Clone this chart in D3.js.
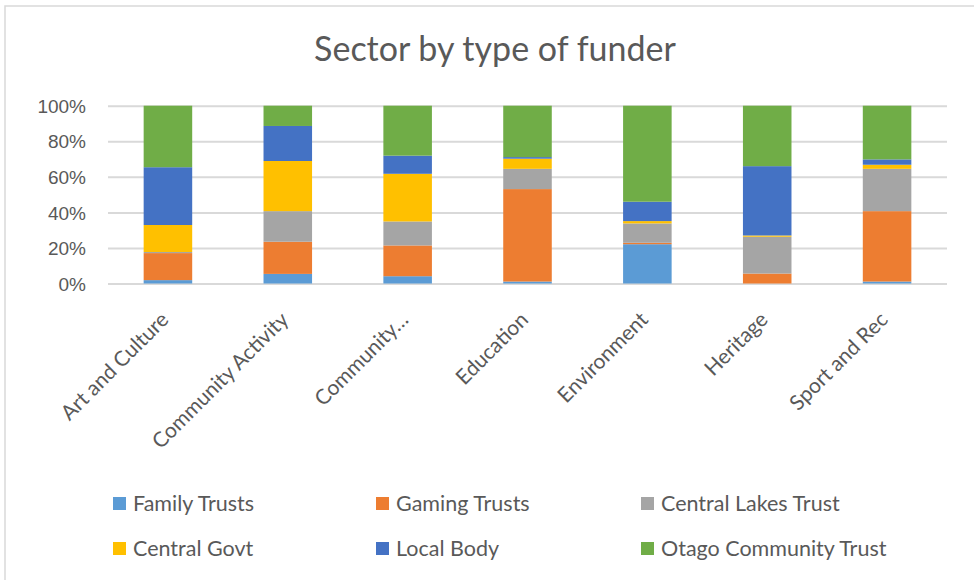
<!DOCTYPE html>
<html>
<head>
<meta charset="utf-8">
<script src="https://cdn.jsdelivr.net/npm/d3@7"></script>
<style>
  body { margin: 0; background: #fff; }
  svg { font-family: Lato, 'Open Sans', sans-serif; }
  .title { font-size: 34px; fill: #595959; }
  .y-label { font-size: 19px; fill: #595959; }
  .x-label { font-size: 21px; fill: #595959; }
  .legend-text { font-size: 21.5px; fill: #595959; }
</style>
</head>
<body>
<svg width="974" height="580"></svg>
<script>
// **** data ****
var categories = ['Art and Culture', 'Community Activity', 'Community\u2026', 'Education', 'Environment', 'Heritage', 'Sport and Rec'];
var funders = ['Family Trusts', 'Gaming Trusts', 'Central Lakes Trust', 'Central Govt', 'Local Body', 'Otago Community Trust'];
var colors = ['#5B9BD5', '#ED7D31', '#A5A5A5', '#FFC000', '#4472C4', '#70AD47'];

var familyTrusts = [1.9, 5.4, 4.1, 1.1, 22.1, 0, 1.1];
var gamingTrusts = [15.2, 18.1, 17.3, 52.0, 0.8, 5.6, 39.6];
var centralLakes = [0.6, 17.2, 13.5, 11.4, 10.9, 20.7, 23.8];
var centralGovt = [15.2, 28.2, 26.8, 5.7, 1.3, 0.7, 2.3];
var localBody = [32.5, 19.7, 10.2, 0.9, 10.9, 39.0, 3.0];
var otagoTrust = [34.6, 11.4, 28.1, 28.9, 54.0, 34.0, 30.2];

var yTicks = [0, 0.2, 0.4, 0.6, 0.8, 1];

var series = [familyTrusts, gamingTrusts, centralLakes, centralGovt, localBody, otagoTrust];

// table for d3.stack
var rows = categories.map(function (c, i) {
    var r = { cat: c };
    funders.forEach(function (f, j) { r[f] = series[j][i]; });
    return r;
});

var stacked = d3.stack().keys(funders).offset(d3.stackOffsetExpand)(rows);

// **** scales ****
var xScale = d3.scaleBand().domain(categories).range([108, 947])
    .paddingInner(0.595).paddingOuter(0.2975);
var yScale = d3.scaleLinear().domain([0, 1]).range([283.5, 105.7]);

var svg = d3.select('svg');

// chart border
svg.append('rect')
    .attr('x', 5).attr('y', 6).attr('width', 1000).attr('height', 600)
    .style('fill', 'none').style('stroke', '#d9d9d9').style('stroke-width', 1.5);

// title
svg.append('text')
    .attr('class', 'title')
    .attr('x', 495).attr('y', 61)
    .attr('text-anchor', 'middle')
    .text('Sector by type of funder');

// gridlines + y labels
var yAxis = svg.append('g').attr('class', 'y axis')
    .attr('transform', 'translate(108,0)')
    .call(d3.axisLeft(yScale).tickValues(yTicks).tickFormat(d3.format('.0%'))
        .tickSize(-(947 - 108)).tickPadding(22));
yAxis.select('.domain').remove();
yAxis.selectAll('line').style('stroke', '#d9d9d9').style('stroke-width', 2);
yAxis.selectAll('text').attr('class', 'y-label').attr('dy', '0.35em');

// bars
svg.append('g').selectAll('g')
    .data(stacked).enter()
    .append('g')
    .style('fill', function (d, i) { return colors[i]; })
    .selectAll('rect')
    .data(function (d) { return d; }).enter()
    .append('rect')
    .attr('x', function (d) { return xScale(d.data.cat); })
    .attr('width', xScale.bandwidth())
    .attr('y', function (d) { return yScale(d[1]); })
    .attr('height', function (d) { return yScale(d[0]) - yScale(d[1]); });

// x labels
svg.append('g').selectAll('text')
    .data(categories).enter()
    .append('text')
    .attr('class', 'x-label')
    .attr('text-anchor', 'end')
    .attr('transform', function (d) {
        var x = xScale(d) + xScale.bandwidth() / 2 + 2;
        return 'translate(' + [x, 321] + ') rotate(-45)';
    })
    .text(function (d) { return d; });

// legend
var legendX = [113, 376, 641];
var legendY = [497, 542];
funders.forEach(function (f, i) {
    var g = svg.append('g')
        .attr('transform', 'translate(' + [legendX[i % 3], legendY[Math.floor(i / 3)]] + ')');
    g.append('rect').attr('width', 13).attr('height', 13).style('fill', colors[i]);
    g.append('text').attr('class', 'legend-text')
        .attr('x', 20).attr('y', 13.5)
        .text(f);
});
</script>
</body>
</html>
